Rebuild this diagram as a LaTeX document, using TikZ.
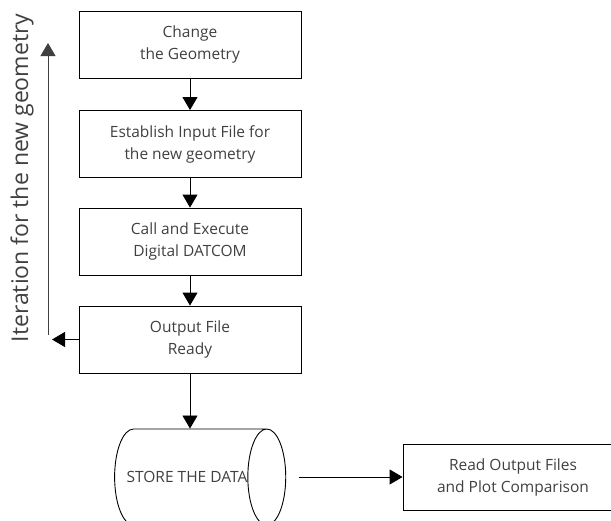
\documentclass[tikz,border=0pt]{standalone}
\usepackage{fontspec}
\setmainfont{Open Sans}
\usetikzlibrary{shapes.geometric,arrows.meta}

\definecolor{txtgray}{HTML}{404040}
\tikzset{
  stepbox/.style={draw, rectangle, line width=0.9pt, minimum width=222pt, minimum height=67pt,
    align=center, text=txtgray, font=\fontsize{15.5}{22}\selectfont},
  store/.style={draw, cylinder, line width=0.9pt, shape aspect=2.1, minimum height=168pt,
    minimum width=96pt, inner xsep=0pt, text=txtgray, font=\fontsize{15.5}{22}\selectfont},
  arr/.style={draw, line width=0.9pt, -{Triangle[length=13pt,width=15pt]}},
}

\begin{document}
\begin{tikzpicture}[x=1pt,y=-1pt]
\useasboundingbox (0,0) rectangle (611,520);
\clip (0,0) rectangle (611,520);

\node[stepbox] (geo) at (190,44.5) {Change\\the Geometry};
\node[stepbox] (inp) at (190,144) {Establish Input File for\\the new geometry};
\node[stepbox] (dat) at (190,241.5) {Call and Execute\\Digital DATCOM};
\node[stepbox] (out) at (190,339.5) {Output File\\Ready};
\node[store] (dat2) at (187,477) {STORE THE DATA};
\node[stepbox, minimum width=220pt, minimum height=66pt] (read) at (513,477) {Read Output Files\\and Plot Comparison};

\path[arr] (geo) -- (inp);
\path[arr] (inp) -- (dat);
\path[arr] (dat) -- (out);
\path[arr] (out.south) -- (out.south |- dat2.north);
\path[arr, shorten <=12.5pt] (dat2.top) -- (read);

\coordinate (back) at (52,339.5);
\coordinate (itlow) at (48,335);
\coordinate (ithigh) at (48,43);
\path[arr] (out.west) -- (back);
\path[arr, draw=txtgray] (itlow) -- (ithigh);
\node[rotate=90, text=txtgray, font=\fontsize{23}{26}\selectfont] (itlabel) at (22,178) {Iteration for the new geometry};
\end{tikzpicture}
\end{document}
